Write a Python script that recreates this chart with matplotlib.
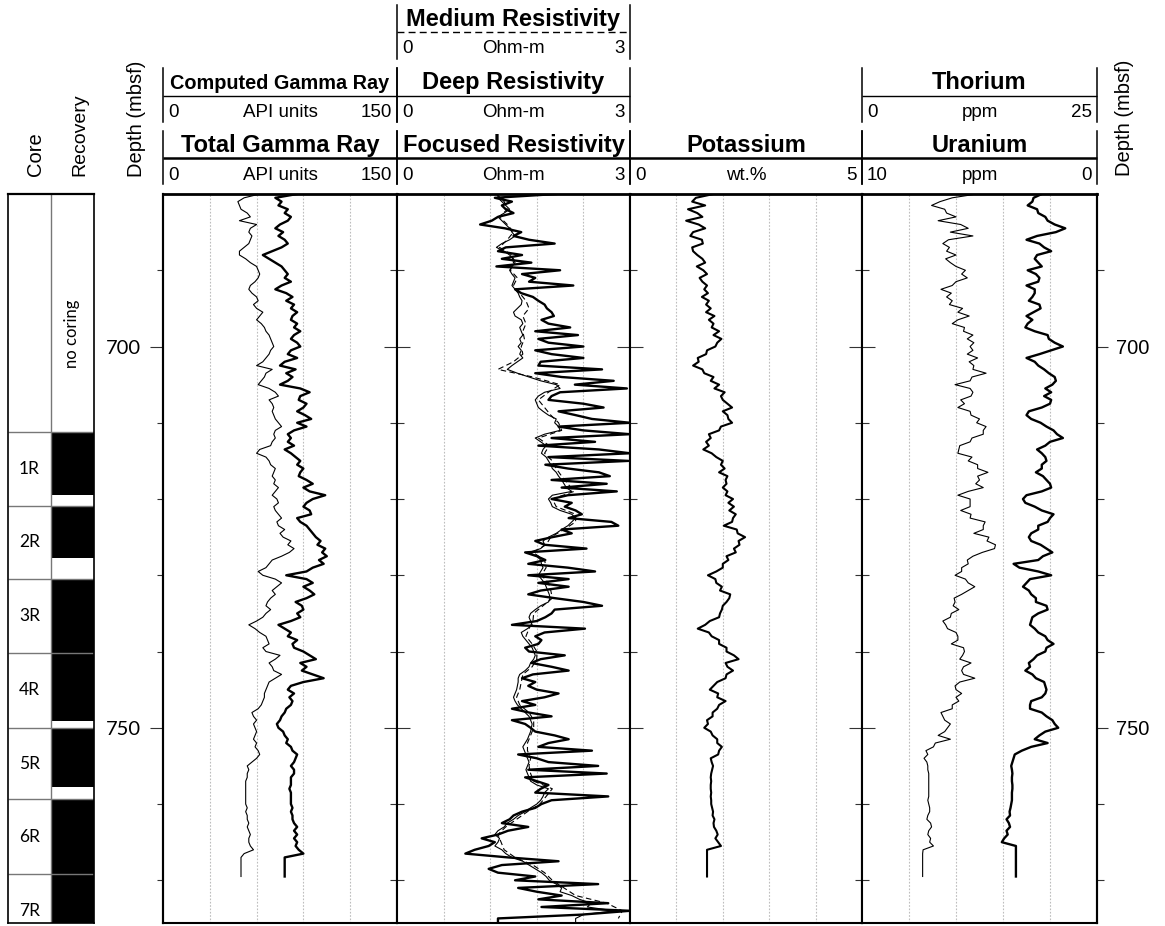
import numpy as np
import matplotlib
matplotlib.use("Agg")
import matplotlib.pyplot as plt
from matplotlib import font_manager as fm

# ---------------------------------------------------------------- data
DEPTH_TOP = 680.0
DEPTH_BOTTOM = 775.6
STEP = 0.5          # log sampling interval (m)

# Total gamma ray (API), 680.0 - 769.5 mbsf
total_gr = [
    86, 72, 76, 74, 80, 78, 82, 80, 75, 72,
    77, 74, 78, 80, 76, 70, 64, 68, 72, 76,
    78, 80, 78, 82, 76, 72, 79, 83, 79, 84,
    82, 86, 83, 82, 86, 84, 88, 84, 82, 86,
    88, 82, 80, 86, 78, 75, 85, 79, 83, 80,
    75, 88, 94, 88, 87, 92, 90, 86, 91, 95,
    86, 92, 84, 80, 82, 80, 84, 78, 82, 85,
    88, 86, 90, 88, 87, 92, 96, 90, 94, 104,
    96, 92, 90, 94, 95, 86, 88, 92, 94, 96,
    98, 101, 99, 104, 102, 105, 100, 103, 96, 92,
    79, 92, 96, 90, 94, 97, 92, 85, 89, 90,
    86, 88, 82, 74, 78, 82, 80, 86, 83, 84,
    90, 94, 98, 88, 92, 89, 96, 103, 90, 82,
    80, 84, 81, 83, 82, 79, 78, 76, 75, 73,
    74, 77, 78, 80, 79, 82, 83, 86, 85, 84,
    82, 84, 84, 82, 82, 82, 81, 82, 82, 82,
    82, 83, 82, 83, 83, 84, 86, 84, 86, 84,
    86, 85, 87, 90, 78, 78, 78, 78, 78, 78,
]

# Computed gamma ray (API), 680.0 - 769.5 mbsf
computed_gr = [
    62, 52, 48, 49, 50, 54, 56, 49, 60, 56,
    55, 57, 56, 55, 52, 49, 49, 53, 56, 60,
    61, 62, 61, 59, 56, 55, 57, 60, 61, 58,
    60, 64, 62, 60, 63, 65, 66, 68, 69, 70,
    71, 69, 68, 66, 64, 60, 70, 66, 65, 63,
    61, 68, 72, 74, 68, 70, 71, 70, 71, 72,
    74, 76, 72, 71, 72, 70, 69, 62, 60, 66,
    68, 69, 72, 71, 70, 72, 71, 74, 72, 70,
    73, 74, 71, 72, 74, 76, 73, 74, 78, 75,
    77, 82, 80, 84, 81, 76, 70, 68, 66, 61,
    64, 72, 76, 73, 70, 72, 69, 67, 66, 69,
    66, 64, 60, 55, 59, 62, 66, 67, 68, 64,
    66, 75, 72, 68, 70, 71, 76, 72, 68, 67,
    66, 65, 65, 64, 63, 61, 57, 58, 60, 58,
    59, 60, 59, 58, 60, 59, 61, 62, 60, 57,
    54, 55, 54, 54, 53, 53, 53, 53, 53, 53,
    53, 54, 53, 54, 54, 55, 54, 55, 56, 55,
    55, 56, 58, 52, 50, 50, 50, 50, 50, 50,
]

# Focused resistivity (Ohm-m), 680.0 - 775.5 mbsf
focused_res = [
    2.05, 1.26, 1.48, 1.35, 1.40, 1.50, 1.30, 1.22, 1.07, 1.39,
    1.60, 1.50, 1.70, 2.03, 1.40, 1.30, 1.61, 1.35, 1.73, 1.28,
    2.10, 1.61, 1.78, 1.70, 2.27, 1.52, 1.60, 1.75, 1.82, 1.90,
    1.93, 1.99, 2.02, 1.86, 1.95, 2.23, 1.78, 2.33, 1.82, 1.95,
    2.40, 1.78, 1.99, 2.40, 1.85, 1.82, 2.64, 1.78, 2.12, 2.79,
    2.29, 2.96, 2.10, 1.99, 1.95, 2.40, 2.66, 2.08, 2.30, 2.51,
    3.00, 2.08, 2.40, 3.00, 1.99, 2.55, 1.82, 2.60, 3.00, 1.95,
    2.98, 1.91, 2.20, 2.60, 2.74, 1.99, 2.70, 2.12, 2.83, 2.20,
    1.99, 2.25, 2.16, 2.30, 2.38, 2.21, 2.76, 2.85, 2.12, 2.25,
    2.00, 1.78, 1.90, 2.44, 1.65, 1.80, 1.91, 1.69, 2.20, 2.55,
    1.69, 2.21, 1.82, 2.21, 1.85, 1.69, 2.03, 2.40, 2.64, 2.03,
    1.99, 1.91, 1.80, 1.48, 2.42, 1.90, 1.78, 1.86, 1.82, 1.65,
    1.70, 2.16, 1.85, 1.73, 1.99, 2.21, 1.75, 1.61, 1.78, 1.69,
    1.80, 2.08, 1.90, 1.61, 1.78, 1.48, 1.70, 1.99, 1.48, 1.65,
    1.72, 1.78, 2.03, 2.21, 1.95, 1.82, 2.51, 1.56, 1.80, 1.95,
    2.59, 1.69, 2.70, 1.65, 1.80, 1.95, 1.85, 1.78, 2.72, 1.99,
    1.86, 1.78, 1.61, 1.50, 1.45, 1.35, 1.69, 1.43, 1.30, 1.09,
    1.26, 1.18, 1.00, 0.88, 1.43, 2.08, 1.35, 1.18, 1.30, 1.78,
    1.52, 2.59, 1.56, 1.80, 2.12, 1.82, 2.72, 1.86, 3.00, 2.38,
    1.30, 1.30,
]

# Deep resistivity (Ohm-m), 680.0 - 775.5 mbsf
deep_res = [
    1.30, 1.30, 1.35, 1.40, 1.45, 1.38, 1.30, 1.35, 1.40, 1.45,
    1.48, 1.52, 1.45, 1.35, 1.28, 1.38, 1.45, 1.50, 1.52, 1.48,
    1.45, 1.48, 1.52, 1.50, 1.48, 1.52, 1.56, 1.58, 1.61, 1.60,
    1.55, 1.50, 1.52, 1.60, 1.62, 1.58, 1.60, 1.62, 1.58, 1.60,
    1.56, 1.60, 1.58, 1.62, 1.55, 1.48, 1.42, 1.55, 1.70, 1.85,
    2.05, 2.10, 1.90, 1.82, 1.78, 1.80, 1.82, 1.88, 1.95, 2.05,
    2.03, 2.08, 2.10, 1.90, 1.78, 1.85, 1.92, 1.88, 1.86, 1.92,
    1.95, 1.98, 2.00, 2.05, 2.08, 2.12, 2.15, 2.18, 2.25, 2.00,
    1.95, 1.98, 2.00, 2.10, 2.25, 2.30, 2.25, 2.20, 2.12, 2.05,
    1.95, 1.88, 1.90, 1.85, 1.70, 1.80, 1.85, 1.86, 1.88, 1.85,
    1.82, 1.86, 1.90, 1.92, 1.94, 1.96, 1.97, 1.95, 1.85, 1.78,
    1.72, 1.70, 1.72, 1.74, 1.68, 1.60, 1.62, 1.66, 1.70, 1.74,
    1.76, 1.78, 1.76, 1.72, 1.70, 1.65, 1.58, 1.56, 1.56, 1.55,
    1.54, 1.52, 1.50, 1.52, 1.55, 1.60, 1.65, 1.70, 1.72, 1.74,
    1.73, 1.72, 1.70, 1.68, 1.65, 1.62, 1.64, 1.66, 1.68, 1.70,
    1.68, 1.66, 1.68, 1.70, 1.72, 1.80, 1.95, 1.90, 1.88, 1.85,
    1.80, 1.72, 1.65, 1.56, 1.50, 1.42, 1.38, 1.30, 1.26, 1.32,
    1.30, 1.26, 1.35, 1.40, 1.48, 1.62, 1.70, 1.78, 1.86, 1.92,
    1.96, 2.05, 2.12, 2.10, 2.25, 2.35, 2.50, 2.45, 2.80, 2.40,
    2.30, 2.30,
]

# Medium resistivity (Ohm-m), 1 m samples, 680 - 775 mbsf
medium_res = [
    1.28, 1.38, 1.42, 1.32, 1.42, 1.50, 1.42, 1.32, 1.48, 1.50,
    1.46, 1.55, 1.50, 1.58, 1.66, 1.70, 1.62, 1.66, 1.62, 1.64,
    1.60, 1.62, 1.50, 1.30, 1.75, 2.10, 1.95, 1.82, 1.90, 1.98,
    2.08, 2.12, 1.82, 1.96, 1.90, 2.00, 2.05, 2.12, 2.20, 2.28,
    2.00, 2.05, 2.30, 2.30, 2.15, 1.98, 1.92, 1.75, 1.90, 1.92,
    1.86, 1.95, 1.98, 2.00, 1.88, 1.76, 1.75, 1.70, 1.66, 1.74,
    1.80, 1.80, 1.74, 1.62, 1.60, 1.58, 1.54, 1.58, 1.70, 1.76,
    1.76, 1.72, 1.68, 1.68, 1.72, 1.70, 1.72, 1.76, 2.00, 1.92,
    1.84, 1.68, 1.54, 1.40, 1.30, 1.34, 1.38, 1.52, 1.75, 1.90,
    2.00, 2.15, 2.30, 2.70, 2.90, 2.85,
]

# Potassium (wt.%), 680.0 - 769.5 mbsf
potassium = [
    1.80, 1.42, 1.34, 1.62, 1.25, 1.45, 1.56, 1.21, 1.48, 1.62,
    1.36, 1.30, 1.55, 1.57, 1.34, 1.36, 1.45, 1.56, 1.62, 1.44,
    1.58, 1.66, 1.50, 1.56, 1.66, 1.60, 1.68, 1.55, 1.70, 1.64,
    1.74, 1.64, 1.82, 1.70, 1.80, 1.76, 1.92, 1.80, 1.97, 1.88,
    1.84, 1.66, 1.64, 1.46, 1.48, 1.36, 1.56, 1.60, 1.80, 1.74,
    1.92, 1.82, 2.04, 1.96, 2.00, 2.10, 2.20, 2.00, 2.10, 2.12,
    2.20, 1.96, 1.92, 1.70, 1.74, 1.64, 1.70, 1.58, 1.76, 1.86,
    2.00, 1.96, 2.04, 1.92, 2.10, 2.06, 2.08, 2.00, 2.10, 2.06,
    2.22, 2.12, 2.24, 2.14, 2.28, 2.22, 2.20, 2.02, 2.30, 2.32,
    2.48, 2.34, 2.36, 2.24, 2.28, 2.08, 2.12, 2.00, 2.00, 1.86,
    1.68, 1.84, 1.86, 1.98, 1.94, 2.16, 2.14, 2.08, 2.00, 1.98,
    1.94, 1.92, 1.72, 1.62, 1.46, 1.70, 1.76, 1.92, 1.92, 2.08,
    2.08, 2.24, 2.34, 2.06, 2.10, 2.22, 2.08, 2.06, 1.88, 1.80,
    1.72, 1.90, 1.88, 2.06, 1.92, 1.88, 1.78, 1.78, 1.66, 1.68,
    1.60, 1.74, 1.78, 1.88, 1.88, 1.98, 1.92, 1.90, 1.74, 1.76,
    1.79, 1.77, 1.75, 1.74, 1.75, 1.74, 1.74, 1.75, 1.74, 1.75,
    1.75, 1.77, 1.79, 1.78, 1.82, 1.80, 1.81, 1.86, 1.89, 1.84,
    1.90, 1.96, 1.66, 1.66, 1.66, 1.66, 1.66, 1.66, 1.66, 1.66,
]

# Thorium (ppm), 680.0 - 769.5 mbsf
thorium = [
    12.2, 9.6, 8.3, 7.4, 8.8, 9.0, 10.0, 8.1, 10.5, 11.3,
    9.4, 11.8, 9.2, 8.6, 9.3, 9.0, 10.0, 8.9, 9.4, 10.0,
    11.0, 10.6, 11.2, 10.0, 9.6, 8.4, 9.5, 9.0, 9.6, 9.3,
    10.7, 10.2, 11.4, 10.2, 9.6, 10.9, 10.8, 11.8, 11.2, 11.9,
    11.5, 11.8, 11.2, 12.3, 11.4, 11.9, 11.8, 13.2, 11.7, 11.5,
    9.9, 11.5, 11.8, 11.6, 10.5, 10.9, 10.2, 11.5, 11.6, 12.5,
    12.2, 13.2, 12.9, 12.9, 11.7, 11.5, 10.4, 10.3, 10.2, 11.7,
    11.3, 12.3, 12.3, 13.4, 12.3, 12.5, 12.1, 12.9, 11.3, 10.2,
    11.5, 11.5, 11.5, 10.5, 11.6, 11.5, 13.1, 12.9, 12.9, 11.9,
    13.5, 13.3, 14.2, 14.1, 12.8, 11.8, 11.2, 11.3, 10.6, 10.6,
    9.9, 11.0, 11.3, 12.0, 11.3, 10.6, 9.8, 9.9, 9.7, 10.3,
    9.5, 9.4, 8.6, 8.9, 9.1, 10.0, 10.2, 10.2, 9.5, 10.8,
    10.9, 10.7, 10.4, 11.6, 10.8, 10.6, 10.8, 12.0, 10.4, 9.9,
    10.0, 10.6, 10.0, 10.3, 9.6, 9.6, 8.4, 8.6, 8.8, 9.4,
    9.1, 8.8, 8.1, 9.4, 7.8, 7.6, 6.8, 7.0, 6.6, 6.9,
    7.0, 7.0, 7.1, 7.1, 7.1, 7.1, 7.1, 7.1, 7.1, 7.0,
    7.1, 7.2, 7.2, 7.0, 6.9, 7.3, 7.4, 7.1, 7.0, 7.3,
    7.2, 7.6, 6.5, 6.45, 6.45, 6.45, 6.45, 6.45, 6.45, 6.45,
]

# Uranium (ppm), 680.0 - 769.5 mbsf
uranium = [
    2.35, 2.70, 2.75, 2.95, 2.55, 2.50, 2.20, 2.10, 1.80, 1.35,
    1.75, 2.55, 3.00, 2.45, 2.25, 1.95, 2.55, 2.65, 2.50, 2.35,
    2.95, 2.60, 2.45, 2.50, 3.00, 2.65, 2.65, 2.75, 2.90, 2.45,
    2.40, 2.70, 3.00, 2.75, 2.95, 3.05, 2.65, 2.10, 2.05, 1.80,
    1.45, 1.95, 2.45, 3.00, 2.65, 2.50, 2.25, 2.05, 1.80, 1.75,
    1.90, 2.20, 1.95, 2.25, 1.95, 2.00, 2.35, 2.90, 3.00, 2.80,
    2.40, 2.15, 1.85, 1.70, 1.45, 2.00, 2.20, 2.55, 2.35, 2.20,
    2.15, 2.35, 2.35, 2.60, 2.30, 2.15, 2.00, 1.95, 2.35, 3.00,
    3.15, 3.05, 2.65, 2.35, 1.85, 2.00, 2.10, 2.50, 2.50, 2.80,
    2.90, 2.80, 2.40, 2.15, 1.90, 2.30, 2.50, 3.55, 3.30, 2.50,
    1.95, 2.85, 3.00, 3.15, 2.90, 2.80, 2.60, 2.60, 2.15, 2.10,
    2.50, 2.75, 2.80, 2.85, 2.65, 2.50, 2.20, 2.10, 1.85, 2.15,
    2.20, 2.55, 2.70, 2.90, 2.85, 3.05, 2.75, 2.60, 2.25, 2.20,
    2.15, 2.20, 2.35, 2.80, 2.85, 2.85, 2.35, 2.15, 1.90, 1.80,
    1.65, 2.20, 2.45, 2.65, 2.10, 2.80, 3.20, 3.50, 3.55, 3.60,
    3.65, 3.62, 3.60, 3.62, 3.62, 3.60, 3.60, 3.62, 3.62, 3.62,
    3.65, 3.68, 3.72, 3.70, 3.85, 3.75, 3.70, 3.85, 3.80, 3.95,
    4.05, 3.45, 3.45, 3.45, 3.45, 3.45, 3.45, 3.45, 3.45, 3.45,
]

# Cores (mbsf)
core_names = ["1R", "2R", "3R", "4R", "5R", "6R", "7R"]
core_top = [711.2, 720.85, 730.5, 740.2, 750.0, 759.4, 769.2]
core_bottom = [720.85, 730.5, 740.2, 750.0, 759.4, 769.2, 778.9]
core_recovered = [8.25, 6.9, 9.7, 8.95, 7.7, 9.8, 9.7]

major_depths = [700, 750]
minor_depths = [690, 710, 720, 730, 740, 760, 770]

# Track scales
gr_range = (0, 150)
res_range = (0, 3)
k_range = (0, 5)
th_range = (0, 25)
u_range = (10, 0)


def depths(values, step=STEP):
    return DEPTH_TOP + step * np.arange(len(values))


# ---------------------------------------------------------------- fonts
SANS = "Liberation Sans"
_names = {f.name for f in fm.fontManager.ttflist}
NARROW = "Liberation Sans Narrow" if "Liberation Sans Narrow" in _names else None
ALT = "Lato" if "Lato" in _names else SANS

# ---------------------------------------------------------------- figure
W, H = 1165, 926
fig = plt.figure(figsize=(W / 100, H / 100), dpi=100)
fig.patch.set_facecolor("white")


def axes_px(x0, y0, x1, y1):
    return fig.add_axes([x0 / W, 1 - y1 / H, (x1 - x0) / W, (y1 - y0) / H])


ov = axes_px(0, 0, W, H)
ov.set_xlim(0, W)
ov.set_ylim(H, 0)
ov.axis("off")

EDGES = [163, 397, 630, 862, 1097]
TOP_PX, BOT_PX = 194, 923
THICK, THIN = 1.7, 0.8
TICK_COLOR = "#333333"


def make_track(i, xr):
    ax = axes_px(EDGES[i], TOP_PX, EDGES[i + 1], BOT_PX)
    ax.set_ylim(DEPTH_BOTTOM, DEPTH_TOP)
    ax.set_xlim(*xr)
    lo, hi = xr
    ax.set_xticks([lo + (hi - lo) * k / 5 for k in range(1, 5)])
    ax.tick_params(axis="x", length=0, labelbottom=False)
    ax.grid(axis="x", color="#bdbdbd", linestyle=(0, (1.5, 1.5)), linewidth=0.8)
    ax.set_yticks(major_depths)
    ax.set_yticks(minor_depths, minor=True)
    ax.tick_params(axis="y", which="both", direction="in", left=(i != 0),
                   right=(i != 3), labelleft=False, labelright=False,
                   color=TICK_COLOR, width=0.8)
    ax.tick_params(axis="y", which="major", length=9.5)
    ax.tick_params(axis="y", which="minor", length=5)
    for s in ("left", "right", "bottom"):
        ax.spines[s].set_linewidth(1.5)
    ax.spines["top"].set_linewidth(2.0)
    ax.set_axisbelow(True)
    return ax


ax_gr = make_track(0, gr_range)
ax_res = make_track(1, res_range)
ax_k = make_track(2, k_range)
ax_th = make_track(3, th_range)

ax_gr.plot(computed_gr, depths(computed_gr), color="k", lw=THIN)
ax_gr.plot(total_gr, depths(total_gr), color="k", lw=THICK)

ax_res.plot(medium_res, depths(medium_res, 1.0), color="k", lw=THIN,
            linestyle=(0, (5, 3)))
ax_res.plot(deep_res, depths(deep_res), color="k", lw=THIN)
ax_res.plot(focused_res, depths(focused_res), color="k", lw=THICK)

ax_k.plot(potassium, depths(potassium), color="k", lw=1.5)

ax_th.plot(thorium, depths(thorium), color="k", lw=THIN)
ax_u = ax_th.twiny()
ax_u.set_xlim(*u_range)
ax_u.set_xticks([])
for s in ax_u.spines.values():
    s.set_visible(False)
ax_u.plot(uranium, depths(uranium), color="k", lw=THICK)

# outer depth scales
sec_l = ax_gr.secondary_yaxis("left")
sec_l.set_yticks(major_depths, labels=[str(d) for d in major_depths])
sec_l.set_yticks(minor_depths, minor=True)
sec_l.tick_params(which="both", direction="out", color=TICK_COLOR, width=0.8)
sec_l.tick_params(which="major", length=9.5, pad=6, labelsize=14.5)
sec_l.tick_params(which="minor", length=4.5)
sec_l.spines["left"].set_linewidth(1.5)
for lab in sec_l.get_yticklabels():
    lab.set_fontfamily(ALT)

sec_r = ax_th.secondary_yaxis("right")
sec_r.set_yticks(major_depths, labels=[str(d) for d in major_depths])
sec_r.set_yticks(minor_depths, minor=True)
sec_r.tick_params(which="both", direction="out", color=TICK_COLOR, width=0.8)
sec_r.tick_params(which="major", length=8, pad=6, labelsize=14.5)
sec_r.tick_params(which="minor", length=5)
sec_r.spines["right"].set_linewidth(1.5)
for lab in sec_r.get_yticklabels():
    lab.set_fontfamily(SANS)

# ---------------------------------------------------------------- core columns
axc = axes_px(8, TOP_PX, 94, BOT_PX)
axc.set_xlim(0, 2)
axc.set_ylim(DEPTH_BOTTOM, DEPTH_TOP)
axc.set_xticks([])
axc.set_yticks([])
axc.axvline(1, color="#777777", lw=1.0)
axc.hlines(core_top, 0, 2, color="#777777", lw=1.0)
axc.barh([t + r / 2 for t, r in zip(core_top, core_recovered)],
         [1] * len(core_top), height=core_recovered, left=1,
         color="black", linewidth=0)
for name, t, b in zip(core_names, core_top, core_bottom):
    axc.text(0.5, (t + b) / 2, name, ha="center", va="center",
             fontsize=12.5, family=ALT)
axc.text(1.5, 698.3, "no coring", rotation=90, ha="center", va="center",
         fontsize=12, family=ALT)
for s in axc.spines.values():
    s.set_linewidth(1.2)
axc.spines["top"].set_linewidth(1.6)

# ---------------------------------------------------------------- header
ROWS = {
    1: dict(top=5, title=26, line=32, scale=53, bot=59),
    2: dict(top=68, title=89, line=95.5, scale=117, bot=122),
    3: dict(top=131, title=152, line=158, scale=180, bot=184),
}


def fmt(v):
    return f"{v:g}"


headers = [
    (0, 3, "Total Gamma Ray", "API units", gr_range, "thick"),
    (0, 2, "Computed Gamma Ray", "API units", gr_range, "thin"),
    (1, 3, "Focused Resistivity", "Ohm-m", res_range, "thick"),
    (1, 2, "Deep Resistivity", "Ohm-m", res_range, "thin"),
    (1, 1, "Medium Resistivity", "Ohm-m", res_range, "dashed"),
    (2, 3, "Potassium", "wt.%", k_range, "thick"),
    (3, 3, "Uranium", "ppm", u_range, "thick"),
    (3, 2, "Thorium", "ppm", th_range, "thin"),
]

for ti, row, title, unit, (lo, hi), style in headers:
    x0, x1 = EDGES[ti], EDGES[ti + 1]
    r = ROWS[row]
    xc = (x0 + x1) / 2
    if title == "Computed Gamma Ray":
        if NARROW:
            ov.text(xc, r["title"], title, ha="center", va="baseline",
                    fontsize=17, fontweight="bold", family=NARROW)
        else:
            ov.text(xc, r["title"], title, ha="center", va="baseline",
                    fontsize=14.3, fontweight="bold", family=SANS)
    else:
        ov.text(xc, r["title"], title, ha="center", va="baseline",
                fontsize=17, fontweight="bold", family=SANS)
    if style == "thick":
        ov.plot([x0, x1], [r["line"]] * 2, color="k", lw=1.8,
                solid_capstyle="butt")
    elif style == "thin":
        ov.plot([x0, x1], [r["line"]] * 2, color="k", lw=1.0,
                solid_capstyle="butt")
    else:
        ov.plot([x0, x1], [r["line"]] * 2, color="k", lw=1.0,
                linestyle=(0, (5, 3)))
    ov.text(x0 + 5, r["scale"], fmt(lo), ha="left", va="baseline",
            fontsize=13.5, family=SANS)
    ov.text(xc, r["scale"], unit, ha="center", va="baseline",
            fontsize=13.5, family=SANS)
    ov.text(x1 - 5, r["scale"], fmt(hi), ha="right", va="baseline",
            fontsize=13.5, family=SANS)
    for xe in (x0, x1):
        ov.plot([xe, xe], [r["top"], r["bot"]], color="k", lw=1.1)

# column titles
ov.text(36, 176, "Core", rotation=90, ha="center", va="bottom",
        fontsize=14.5, family=SANS)
ov.text(80, 176, "Recovery", rotation=90, ha="center", va="bottom",
        fontsize=14, family=SANS)
ov.text(137, 177, "Depth (mbsf)", rotation=90, ha="center", va="bottom",
        fontsize=14.5, family=SANS)
ov.text(1125, 176, "Depth (mbsf)", rotation=90, ha="center", va="bottom",
        fontsize=14.5, family=SANS)

fig.savefig("out.png", dpi=100, facecolor="white")
